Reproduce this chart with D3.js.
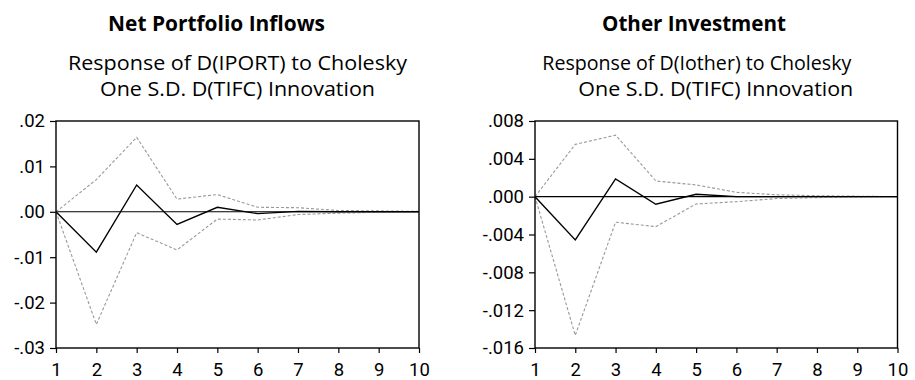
<!DOCTYPE html>
<html><head><meta charset="utf-8">
<script src="https://cdn.jsdelivr.net/npm/d3@7"></script>
<style>
body{margin:0;background:#fff;}
text{font-family:"Open Sans",sans-serif;fill:#000;}
</style></head>
<body><svg id="c" width="915" height="380"></svg>
<script>
const periods = [1,2,3,4,5,6,7,8,9,10];

const portTitle = "Net Portfolio Inflows";
const portSub = ["Response of D(IPORT) to Cholesky", "One S.D. D(TIFC) Innovation"];
const portResp  = [0, -0.0089, 0.0059, -0.0028, 0.0010, -0.0004, 0.0001, 0.0000, 0.0000, 0.0000];
const portUpper = [0, 0.0071, 0.0164, 0.0028, 0.0038, 0.0010, 0.0009, 0.0003, 0.0002, 0.0001];
const portLower = [0, -0.0248, -0.0046, -0.0084, -0.0016, -0.0018, -0.0006, -0.0003, -0.0001, 0.0000];
const portTicks = [0.02, 0.01, 0.00, -0.01, -0.02, -0.03];
const portTickLabels = [".02", ".01", ".00", "-.01", "-.02", "-.03"];

const othTitle = "Other Investment";
const othSub = ["Response of D(Iother) to Cholesky", "One S.D. D(TIFC) Innovation"];
const othResp  = [0, -0.00457, 0.00187, -0.0008, 0.00025, 0.0000, 0.0000, 0.0000, 0.0000, 0.0000];
const othUpper = [0, 0.00553, 0.0065, 0.00166, 0.00124, 0.00046, 0.0002, 0.0001, 0.00005, 0.0000];
const othLower = [0, -0.01467, -0.0027, -0.00317, -0.00077, -0.00053, -0.0002, -0.0001, -0.00005, 0.0000];
const othTicks = [0.008, 0.004, 0.000, -0.004, -0.008, -0.012, -0.016];
const othTickLabels = [".008", ".004", ".000", "-.004", "-.008", "-.012", "-.016"];

const svg = d3.select("#c");

function fitSize(sel, width){
  const fs = parseFloat(sel.attr("font-size"));
  const w = sel.node().getComputedTextLength();
  return fs * width / w;
}

function panel(cfg){
  const {x0, x1, y0, y1, title, sub, resp, upper, lower, ticks, labels, titleCx, titleW, subX, subW} = cfg;
  const g = svg.append("g");
  const x = d3.scaleLinear().domain([1, 10]).range([x0, x1]);
  const y = d3.scaleLinear().domain([ticks[ticks.length-1], ticks[0]]).range([y1, y0]);

  const t = g.append("text").attr("x", titleCx).attr("y", 31).attr("text-anchor","middle")
    .attr("font-weight","bold").attr("font-size",18).text(title);
  t.attr("font-size", fitSize(t, titleW));
  sub.forEach((s,i)=> g.append("text").attr("x", subX[i]).attr("y", 69.5 + i*26.4)
      .attr("font-size",20).attr("textLength", subW[i]).attr("lengthAdjust","spacingAndGlyphs").text(s));

  // axes
  const yAxis = d3.axisLeft(y).tickValues(ticks).tickFormat((d,i)=>labels[i]).tickSize(6).tickPadding(5);
  const ya = g.append("g").attr("transform",`translate(${x0},0)`).call(yAxis);
  const xAxis = d3.axisBottom(x).tickValues(periods).tickFormat(d3.format("d")).tickSize(5).tickPadding(10);
  const xa = g.append("g").attr("transform",`translate(0,${y1})`).call(xAxis);
  [ya, xa].forEach(a=>{
    a.attr("font-size",18.5).attr("font-family","Roboto,sans-serif");
    a.select(".domain").remove();
    a.selectAll("line").attr("stroke","#000").attr("stroke-width",1.2);
    a.selectAll("text").attr("fill","#000").style("font-family","Roboto,sans-serif");
  });
  xa.selectAll("text").attr("dy","0.71em");

  // zero line
  g.append("line").attr("x1",x0).attr("x2",x1).attr("y1",y(0)).attr("y2",y(0))
    .attr("stroke","#000").attr("stroke-width",1.1);

  const line = d3.line().x((d,i)=>x(periods[i])).y(d=>y(d));
  [upper, lower].forEach(arr=>{
    g.append("path").attr("d", line(arr)).attr("fill","none").attr("stroke","#999")
      .attr("stroke-width",1.1).attr("stroke-dasharray","3,2");
  });
  g.append("path").attr("d", line(resp)).attr("fill","none").attr("stroke","#000").attr("stroke-width",1.4);

  // frame
  g.append("rect").attr("x",x0).attr("y",y0).attr("width",x1-x0).attr("height",y1-y0)
    .attr("fill","none").attr("stroke","#000").attr("stroke-width",1.4);
}

panel({x0:56, x1:419, y0:121, y1:348, title:portTitle, sub:portSub, resp:portResp, upper:portUpper, lower:portLower,
  ticks:portTicks, labels:portTickLabels, titleCx:216.5, titleW:217, subX:[68,100], subW:[339,275]});
panel({x0:535, x1:897.5, y0:121, y1:348, title:othTitle, sub:othSub, resp:othResp, upper:othUpper, lower:othLower,
  ticks:othTicks, labels:othTickLabels, titleCx:694, titleW:184, subX:[542.3,578.3], subW:[309,275]});
</script></body></html>
